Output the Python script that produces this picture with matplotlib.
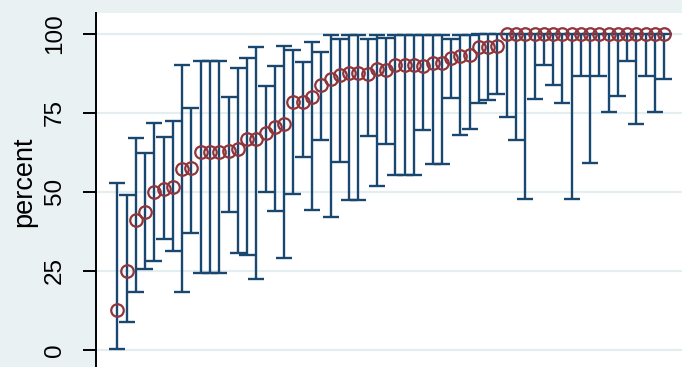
import numpy as np
import matplotlib
matplotlib.use("Agg")
import matplotlib.pyplot as plt

# Percent per unit, sorted ascending, with exact 95% confidence limits
pct = [12.5, 25.0, 41.0, 43.5, 50.0, 51.0, 51.7, 57.1, 57.7, 62.5,
       62.5, 62.5, 62.9, 63.6, 66.7, 66.7, 68.6, 70.6, 71.4, 78.6,
       78.6, 80.0, 83.7, 85.7, 87.0, 87.5, 87.5, 87.3, 88.9, 88.6,
       90.0, 90.0, 90.0, 89.7, 90.9, 90.9, 92.3, 93.0, 93.4, 96.0,
       96.0, 96.2, 100, 100, 100, 100, 100, 100, 100, 100,
       100, 100, 100, 100, 100, 100, 100, 100, 100, 100]
ci_lo = [0.3, 8.7, 18.2, 25.5, 28.2, 35.1, 31.3, 18.4, 36.9, 24.5,
         24.5, 24.5, 43.8, 30.8, 29.9, 22.3, 49.9, 44.0, 29.0, 49.2,
         61.2, 44.4, 66.5, 42.1, 59.4, 47.3, 47.3, 67.7, 51.8, 65.2,
         55.5, 55.5, 55.5, 69.6, 58.7, 58.7, 79.6, 68.0, 69.8, 78.1,
         79.1, 80.9, 73.6, 66.5, 47.7, 79.4, 90.2, 83.9, 78.1, 47.7,
         86.7, 59.1, 86.7, 75.2, 80.5, 91.4, 71.5, 86.7, 75.2, 85.8]
ci_hi = [52.7, 49.1, 67.2, 62.4, 71.8, 67.3, 72.3, 90.1, 76.6, 91.5,
         91.5, 91.5, 80.0, 89.1, 92.5, 95.7, 83.5, 89.7, 96.3, 95.0,
         91.2, 97.5, 94.4, 99.6, 98.3, 99.7, 99.7, 98.5, 99.7, 98.6,
         99.7, 99.7, 99.7, 99.7, 99.8, 99.8, 98.5, 99.5, 99.5, 100,
         100, 100, 100, 100, 100, 100, 100, 100, 100, 100,
         100, 100, 100, 100, 100, 100, 100, 100, 100, 100]
yticks = [0, 25, 50, 75, 100]
ylabel = "percent"

pct = np.asarray(pct, dtype=float)
lo = np.asarray(ci_lo, dtype=float)
hi = np.asarray(ci_hi, dtype=float)
rank = np.arange(1, len(pct) + 1)

plt.rcParams["font.family"] = ["Liberation Sans", "DejaVu Sans"]

W, H = 682, 367
bg = "#EAF1F3"
navy = "#1A476F"
maroon = "#90353B"

fig = plt.figure(figsize=(W / 100, H / 100), dpi=100, facecolor=bg)
ax = fig.add_axes([96 / W, 0, 1 - 96 / W, 1 - 12.7 / H])
ax.set_facecolor("white")
ax.set_xlim(-1.3, 61.91)
ax.set_ylim(-5.38, 106.7)

ax.errorbar(rank, pct, yerr=[pct - lo, hi - pct], fmt="none",
            ecolor=navy, elinewidth=1.7, capsize=5.9, capthick=1.7, zorder=2)
ax.plot(rank, pct, "o", mfc="none", mec=maroon, ms=9, mew=1.6, zorder=3)

ax.set_yticks(yticks)
ax.set_yticklabels([str(t) for t in yticks])
ax.set_xticks([])
ax.yaxis.grid(True, color="#E4EDF0", lw=1.6)
ax.set_axisbelow(True)
for side in ("top", "right", "bottom"):
    ax.spines[side].set_visible(False)
ax.spines["left"].set_color("black")
ax.spines["left"].set_linewidth(1.4)
ax.tick_params(axis="y", direction="out", length=9.5, width=1.4,
               labelsize=17.5, pad=12, colors="black")
for lab in ax.get_yticklabels():
    lab.set_rotation(90)
    lab.set_va("center")

fig.text(24 / W, (H - 182) / H, ylabel, rotation=90, ha="center",
         va="center", fontsize=19.5)

fig.savefig("out.png", dpi=100, facecolor=bg)
